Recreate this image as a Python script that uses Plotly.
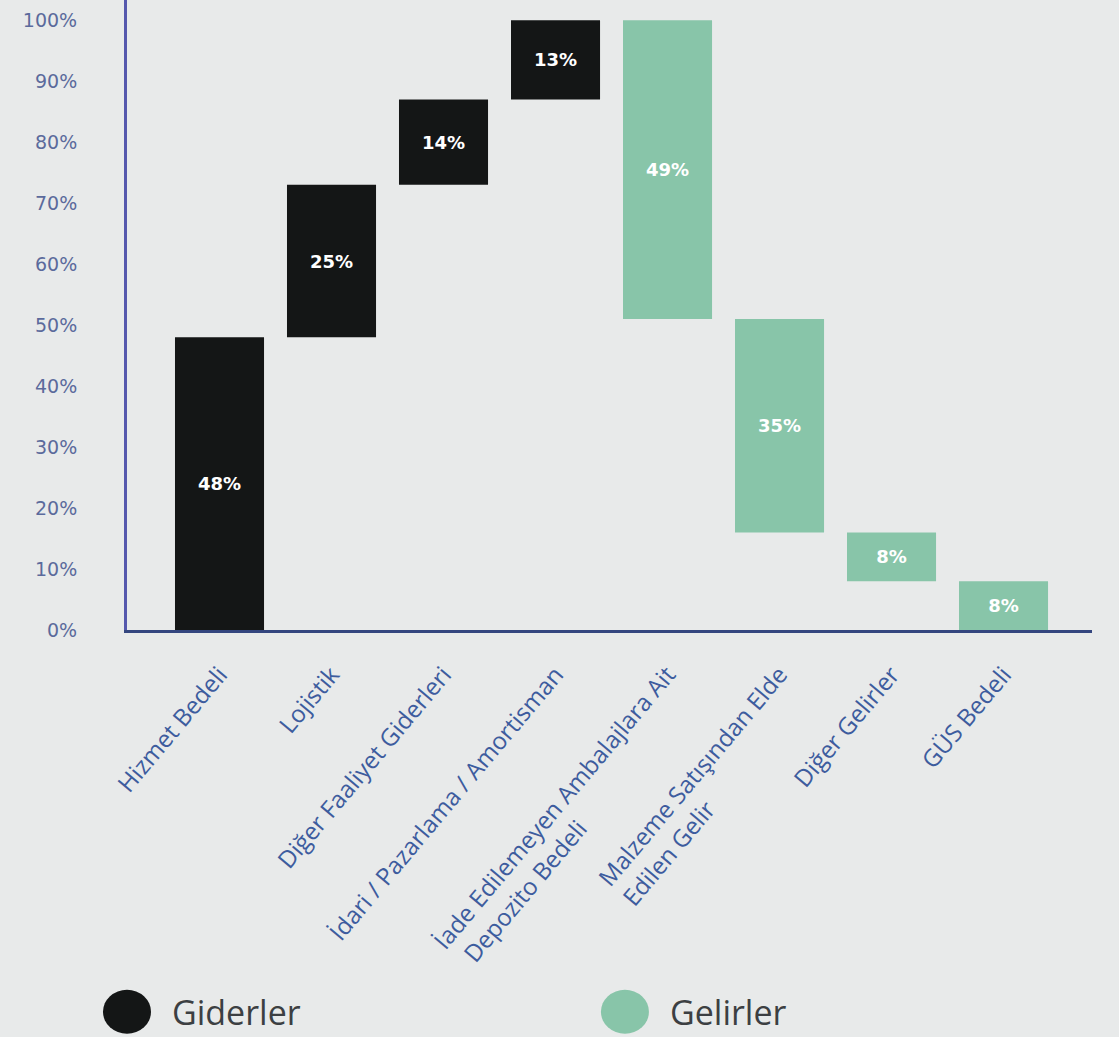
import plotly.graph_objects as go

NBSP = "\u00a0"
categories = [
    "Hizmet Bedeli",
    "Lojistik",
    "Diğer Faaliyet Giderleri",
    "İdari / Pazarlama / Amortisman",
    "İade Edilemeyen Ambalajlara Ait<br>Depozito Bedeli" + NBSP * 28,
    "Malzeme Satışından Elde<br>Edilen Gelir" + NBSP * 24,
    "Diğer Gelirler",
    "GÜS Bedeli",
]
gider_categories = categories[:4]
gelir_categories = categories[4:]
gider_values = [48, 25, 14, 13]
gelir_values = [49, 35, 8, 8]
y_tick_values = [0, 10, 20, 30, 40, 50, 60, 70, 80, 90, 100]
y_tick_labels = ["0%", "10%", "20%", "30%", "40%", "50%", "60%", "70%", "80%", "90%", "100%"]
legend_names = ["Giderler", "Gelirler"]

# floating bar bases: expenses stack up from 0, revenues step down from 100
gider_bases = []
acc = 0
for v in gider_values:
    gider_bases.append(acc)
    acc += v
gelir_bases = []
acc = 100
for v in gelir_values:
    acc -= v
    gelir_bases.append(acc)

BLACK = "#141616"
GREEN = "#88c5a9"
BG = "#e8eaea"

fig = go.Figure()
fig.add_trace(go.Bar(
    x=gider_categories, y=gider_values, base=gider_bases,
    marker=dict(color=BLACK, line=dict(width=0)), width=0.795,
    text=[f"{v}%" for v in gider_values], textposition="inside",
    insidetextanchor="middle",
    textfont=dict(family="DejaVu Sans", size=18, color="white", weight="bold"),
    name=legend_names[0], showlegend=False, hoverinfo="skip",
))
fig.add_trace(go.Bar(
    x=gelir_categories, y=gelir_values, base=gelir_bases,
    marker=dict(color=GREEN, line=dict(width=0)), width=0.795,
    text=[f"{v}%" for v in gelir_values], textposition="inside",
    insidetextanchor="middle",
    textfont=dict(family="DejaVu Sans", size=18, color="white", weight="bold"),
    name=legend_names[1], showlegend=False, hoverinfo="skip",
))

# legend drawn as large dots with labels
legend_items = [(0.0, BLACK, legend_names[0]), (0.516, GREEN, legend_names[1])]
shapes = []
annotations = []
for xp, col, name in legend_items:
    shapes.append(dict(type="circle", xref="paper", yref="paper",
                       xsizemode="pixel", ysizemode="pixel",
                       xanchor=xp, yanchor=-0.606,
                       x0=-24, x1=24, y0=-22, y1=22,
                       fillcolor=col, line=dict(width=0)))
    annotations.append(dict(x=xp + 0.045, y=-0.606, xref="paper", yref="paper",
                            text=name, showarrow=False, xanchor="left", yanchor="middle",
                            font=dict(family="Open Sans", size=34, color="#3c3f42")))

fig.update_layout(
    width=1119, height=1037,
    margin=dict(l=127, r=27, t=0, b=407),
    paper_bgcolor=BG, plot_bgcolor=BG,
    barmode="overlay",
    shapes=shapes, annotations=annotations,
    showlegend=False,
    xaxis=dict(
        type="category", categoryorder="array", categoryarray=categories,
        range=[-0.826, 7.79],
        showline=True, linecolor="#34467f", linewidth=3,
        showgrid=False, zeroline=False, ticks="",
        tickangle=-50, ticklabelstandoff=18,
        tickfont=dict(family="Open Sans", size=24, color="#3d5c9e"),
    ),
    yaxis=dict(
        range=[0, 103.3],
        tickvals=y_tick_values, ticktext=y_tick_labels,
        showline=True, linecolor="#5558ad", linewidth=3,
        showgrid=False, zeroline=False, ticks="",
        ticklabelstandoff=43,
        tickfont=dict(family="DejaVu Sans", size=19, color="#5b6a9c"),
    ),
)

fig.write_html("out.html", config={"displayModeBar": False},
               post_script="document.body.style.margin='0';")
